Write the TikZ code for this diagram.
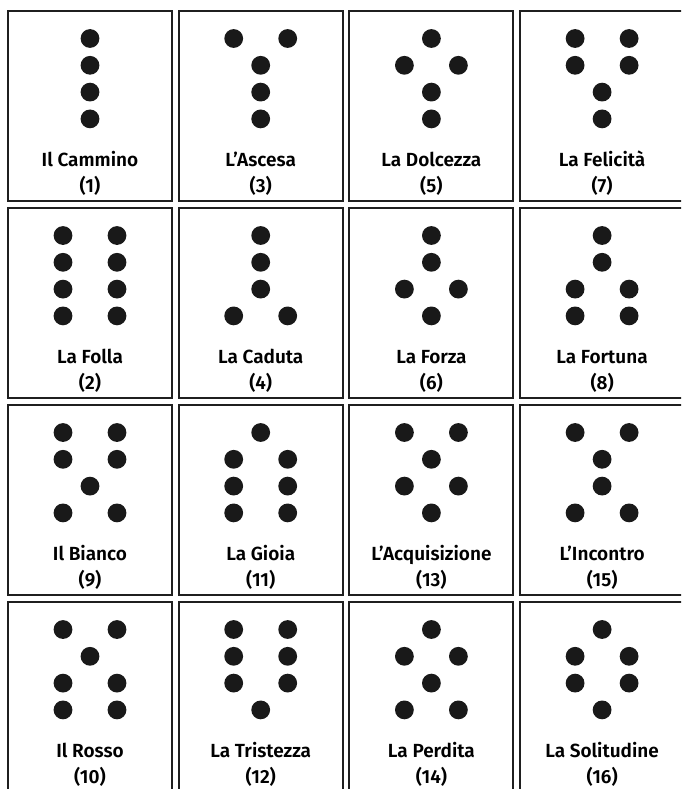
\documentclass[tikz,border=0pt]{standalone}
\usepackage{fontspec}
\setmainfont{Fira Sans}[UprightFont={* SemiBold}]

\tikzset{
  figbox/.style={draw=black!88, line width=2pt, minimum width=164pt,
    minimum height=190pt, inner sep=0pt, anchor=north},
  figdot/.style={fill=black!90},
  figname/.style={anchor=base, inner sep=0pt, font=\fontsize{19}{22}\selectfont}
}

\begin{document}
\begin{tikzpicture}[x=1pt,y=-1pt]
  \useasboundingbox (0,0) rectangle (681,789);
  \clip (0,0) rectangle (681,789);

  % column / row / name / number / dots per row (top to bottom)
  \foreach \c/\r/\name/\num/\pa/\pb/\pc/\pd in {
    0/0/Il Cammino/1/1/1/1/1,
    1/0/L’Ascesa/3/2/1/1/1,
    2/0/La Dolcezza/5/1/2/1/1,
    3/0/La Felicità/7/2/2/1/1,
    0/1/La Folla/2/2/2/2/2,
    1/1/La Caduta/4/1/1/1/2,
    2/1/La Forza/6/1/1/2/1,
    3/1/La Fortuna/8/1/1/2/2,
    0/2/Il Bianco/9/2/2/1/2,
    1/2/La Gioia/11/1/2/2/2,
    2/2/L’Acquisizione/13/2/1/2/1,
    3/2/L’Incontro/15/2/1/1/2,
    0/3/Il Rosso/10/2/1/2/2,
    1/3/La Tristezza/12/2/2/2/1,
    2/3/La Perdita/14/1/2/1/2,
    3/3/La Solitudine/16/1/2/2/1} {
    % the frame
    \node[figbox] (box\num) at ({90+170.7*\c},{10+197*\r}) {};
    % the dots
    \foreach \v [count=\k from 0] in {\pa,\pb,\pc,\pd} {
      \ifnum\v=1
        \fill[figdot] ([shift={(0,28.5+26.8*\k)}]box\num.north) circle (9.4);
      \else
        \fill[figdot] ([shift={(-27,28.5+26.8*\k)}]box\num.north) circle (9.4);
        \fill[figdot] ([shift={(27,28.5+26.8*\k)}]box\num.north) circle (9.4);
      \fi
    }
    % name and number
    \node[figname] (name\num) at ([shift={(0,156)}]box\num.north) {\name};
    \node[figname] (num\num) at ([shift={(0,182)}]box\num.north) {(\num)};
  }
\end{tikzpicture}
\end{document}
